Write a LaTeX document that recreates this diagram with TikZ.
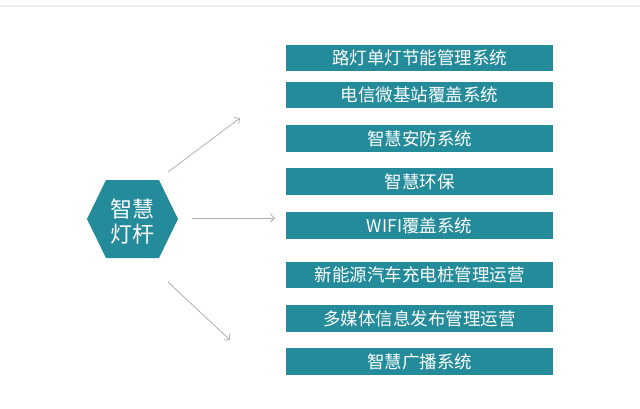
\documentclass[tikz,border=0pt]{standalone}
\usepackage{fontspec}
\setmainfont{Noto Sans CJK SC}
\usetikzlibrary{arrows.meta}
\definecolor{teal1}{RGB}{36,139,155}
\definecolor{arrowgray}{RGB}{175,175,175}
\definecolor{topline}{RGB}{240,240,240}
\tikzset{
  itembox/.style={fill=teal1, draw=none, minimum width=267pt, minimum height=26.5pt, inner sep=0pt, text=white, font=\fontsize{17.5pt}{20pt}\selectfont},
  conn/.style={draw=arrowgray, line width=0.8pt, -{Straight Barb[length=4pt,width=8pt]}}
}
\begin{document}
\begin{tikzpicture}[x=1pt,y=-1pt]
\useasboundingbox (0,0) rectangle (640,408);
\fill[white] (0,0) rectangle (640,408);
\draw[topline, line width=2pt] (0,6) -- (640,6);
% hexagon
\fill[teal1] (87,219) -- (106,180) -- (159,180) -- (178,219) -- (159,258) -- (106,258) -- cycle;
\node[text=white, font=\fontsize{22pt}{25pt}\selectfont, align=center] (hub) at (132.5,222) {智慧\\灯杆};
% boxes
\node[itembox] (b1) at (419.5,58) {路灯单灯节能管理系统};
\node[itembox] (b2) at (419.5,95) {电信微基站覆盖系统};
\node[itembox] (b3) at (419.5,138.5) {智慧安防系统};
\node[itembox] (b4) at (419.5,181.5) {智慧环保};
\node[itembox] (b5) at (419.5,225.5) {WIFI覆盖系统};
\node[itembox] (b6) at (419.5,275) {新能源汽车充电桩管理运营};
\node[itembox] (b7) at (419.5,318.5) {多媒体信息发布管理运营};
\node[itembox] (b8) at (419.5,361.5) {智慧广播系统};
% arrows
\coordinate (a1s) at (168,172); \coordinate (a1e) at (240,118);
\coordinate (a2s) at (192,218); \coordinate (a2e) at (275,218);
\coordinate (a3s) at (168,282); \coordinate (a3e) at (230,340);
\draw[conn] (a1s) -- (a1e);
\draw[conn] (a2s) -- (a2e);
\draw[conn] (a3s) -- (a3e);
\end{tikzpicture}
\end{document}
